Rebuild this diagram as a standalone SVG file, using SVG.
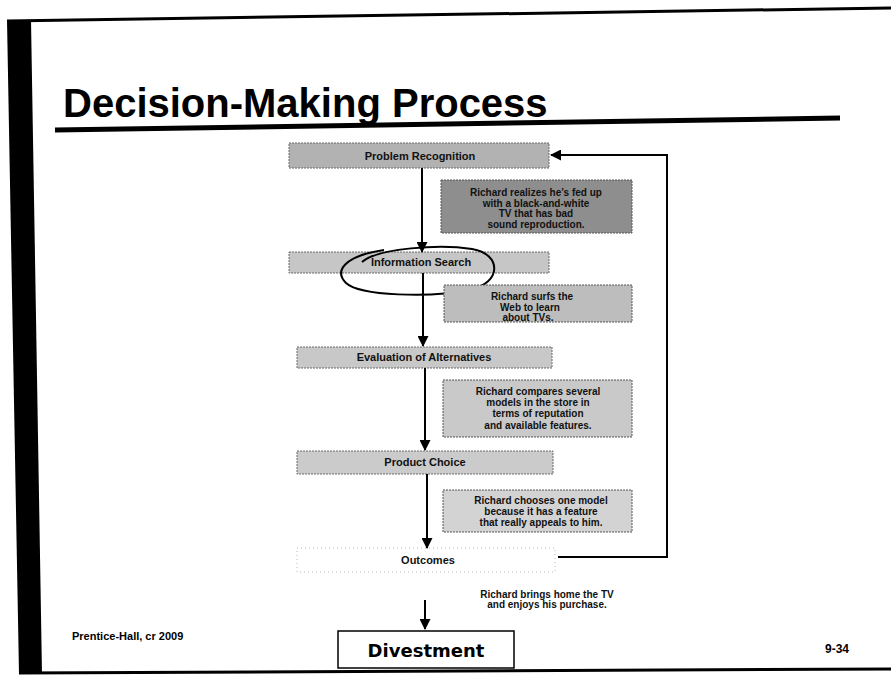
<svg xmlns="http://www.w3.org/2000/svg" width="891" height="675" viewBox="0 0 891 675">
  <defs>
    <marker id="arrow" markerWidth="11" markerHeight="11" refX="10" refY="5.5" orient="auto" markerUnits="userSpaceOnUse">
      <path d="M0,0 L11,5.5 L0,11 Z" fill="#000"/>
    </marker>
    <style>
      .step { stroke: #6a6a6a; stroke-width: 1; stroke-dasharray: 2 1; }
      .step-label { font-family: "Liberation Sans", Arial, sans-serif; font-weight: bold; font-size: 11px; fill: #111; text-anchor: middle; }
      .note { stroke: #555; stroke-width: 1; stroke-dasharray: 2 1; }
      .note-text { font-family: "Liberation Sans", Arial, sans-serif; font-weight: bold; font-size: 10px; fill: #111; text-anchor: middle; }
      .link { stroke: #000; stroke-width: 2; fill: none; }
    </style>
  </defs>

  <rect width="891" height="675" fill="#fff"/>

  <!-- slide frame -->
  <polygon points="7,20 31,20 42,674 19,674" fill="#000"/>
  <line x1="7" y1="21" x2="891" y2="8" stroke="#000" stroke-width="3"/>
  <line x1="19" y1="673" x2="891" y2="669" stroke="#000" stroke-width="3"/>

  <!-- title -->
  <text x="63" y="117" font-family="Liberation Sans, Arial, sans-serif" font-weight="bold" font-size="40" fill="#000">Decision-Making Process</text>
  <line x1="55" y1="130" x2="840" y2="118" stroke="#000" stroke-width="5"/>

  <!-- process steps -->
  <g id="problem-recognition">
    <rect class="step" x="289" y="143" width="260" height="25" fill="#b2b2b2"/>
    <text class="step-label" x="420" y="160">Problem Recognition</text>
  </g>
  <g id="information-search">
    <rect class="step" x="289" y="252" width="260" height="21" fill="#c6c6c6"/>
    <text class="step-label" x="421" y="266">Information Search</text>
    <path d="M362,262 C378,248 440,244 472,249 C502,254 502,283 470,290 C430,298 360,296 346,283 C334,271 344,256 384,250" fill="none" stroke="#000" stroke-width="2"/>
  </g>
  <g id="evaluation-of-alternatives">
    <rect class="step" x="297" y="347" width="255" height="21" fill="#c8c8c8"/>
    <text class="step-label" x="424" y="361">Evaluation of Alternatives</text>
  </g>
  <g id="product-choice">
    <rect class="step" x="297" y="451" width="256" height="23" fill="#cbcbcb"/>
    <text class="step-label" x="425" y="466">Product Choice</text>
  </g>
  <g id="outcomes">
    <rect x="297" y="548" width="258" height="24" fill="none" stroke="#bbb" stroke-width="1" stroke-dasharray="1 3"/>
    <text class="step-label" x="428" y="564">Outcomes</text>
  </g>
  <g id="divestment">
    <rect x="338" y="631" width="176" height="37" fill="#fff" stroke="#000" stroke-width="1.5"/>
    <text x="426" y="657" font-family="DejaVu Sans, Verdana, sans-serif" font-weight="bold" font-size="18" fill="#000" text-anchor="middle">Divestment</text>
  </g>

  <!-- example notes -->
  <g id="note-recognition">
    <rect class="note" x="441" y="180" width="191" height="53" fill="#8e8e8e"/>
    <text class="note-text" x="536" y="196">Richard realizes he’s fed up</text>
    <text class="note-text" x="536" y="207">with a black-and-white</text>
    <text class="note-text" x="536" y="217">TV that has bad</text>
    <text class="note-text" x="536" y="228">sound reproduction.</text>
  </g>
  <g id="note-search">
    <rect class="note" x="444" y="285" width="188" height="37" fill="#bdbdbd"/>
    <text class="note-text" x="532" y="300">Richard surfs the</text>
    <text class="note-text" x="530" y="311">Web to learn</text>
    <text class="note-text" x="528" y="321">about TVs.</text>
  </g>
  <g id="note-evaluation">
    <rect class="note" x="443" y="380" width="189" height="57" fill="#c9c9c9"/>
    <text class="note-text" x="538" y="395">Richard compares several</text>
    <text class="note-text" x="538" y="406">models in the store in</text>
    <text class="note-text" x="538" y="417">terms of reputation</text>
    <text class="note-text" x="538" y="429">and available features.</text>
  </g>
  <g id="note-choice">
    <rect class="note" x="443" y="490" width="189" height="42" fill="#d3d3d3"/>
    <text class="note-text" x="541" y="504">Richard chooses one model</text>
    <text class="note-text" x="541" y="515">because it has a feature</text>
    <text class="note-text" x="541" y="526">that really appeals to him.</text>
  </g>
  <g id="note-outcomes">
    <text class="note-text" x="547" y="598">Richard brings home the TV</text>
    <text class="note-text" x="547" y="608">and enjoys his purchase.</text>
  </g>

  <!-- connectors -->
  <g id="connectors">
    <line class="link" x1="422" y1="168" x2="422" y2="252" marker-end="url(#arrow)"/>
    <line class="link" x1="423" y1="273" x2="423" y2="346" marker-end="url(#arrow)"/>
    <line class="link" x1="425" y1="368" x2="425" y2="450" marker-end="url(#arrow)"/>
    <line class="link" x1="427" y1="474" x2="427" y2="548" marker-end="url(#arrow)"/>
    <polyline class="link" points="558,557 667,557 667,155 551,155" marker-end="url(#arrow)"/>
    <line class="link" x1="425" y1="600" x2="425" y2="629" marker-end="url(#arrow)"/>
  </g>

  <!-- footer -->
  <text x="72" y="640" font-family="Liberation Sans, Arial, sans-serif" font-weight="bold" font-size="11" fill="#000">Prentice-Hall, cr 2009</text>
  <text x="825" y="653" font-family="Liberation Sans, Arial, sans-serif" font-weight="bold" font-size="12" fill="#000">9-34</text>
</svg>
